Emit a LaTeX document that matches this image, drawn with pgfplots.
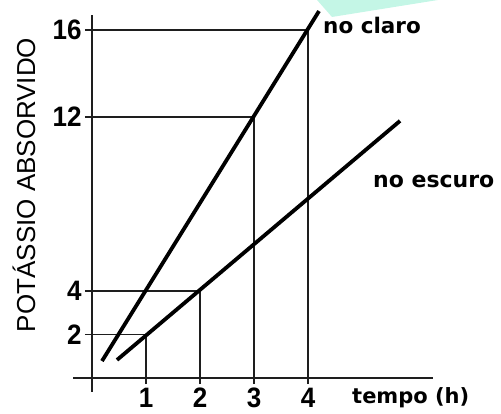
\documentclass[border=0pt]{standalone}
\usepackage{pgfplots}
\pgfplotsset{compat=1.18}
\usepackage{fontspec}
\setmainfont{Liberation Sans}
\newfontfamily\dvb{DejaVu Sans}[BoldFont={DejaVu Sans Bold}]
\definecolor{aqua}{RGB}{196,246,230}
\definecolor{guide}{RGB}{30,30,30}
\tikzset{ytl/.style={anchor=east, inner sep=0pt, font=\fontsize{26}{26}\selectfont\bfseries},
         xtl/.style={anchor=center, inner sep=0pt, font=\fontsize{26}{26}\selectfont\bfseries}}
\newcommand{\tl}[1]{\scalebox{1}[1.08]{#1}}
\begin{document}
\begin{tikzpicture}
\begin{axis}[
  width=501pt, height=414pt, scale only axis,
  xmin=-1.7037, xmax=7.574, ymin=-1.655, ymax=17.379,
  hide axis, clip=false,
]
% background artifact
\fill[aqua] (axis cs:4.167,17.379) -- (axis cs:4.444,16.598) -- (axis cs:6.407,17.379) -- cycle;
% axes
\draw[guide, line width=1.3pt] (axis cs:0,-0.64) -- (axis cs:0,16.69);
\draw[guide, line width=1.3pt] (axis cs:-0.35,0) -- (axis cs:6.31,0);
% guide lines
\draw[guide, line width=1.2pt] (axis cs:-0.13,16) -- (axis cs:4,16);
\draw[guide, line width=1.2pt] (axis cs:-0.13,12) -- (axis cs:3,12);
\draw[guide, line width=1.2pt] (axis cs:-0.13,4) -- (axis cs:2,4);
\draw[guide, line width=1.2pt] (axis cs:-0.13,2) -- (axis cs:1,2);
\draw[guide, line width=1.2pt] (axis cs:1,-0.28) -- (axis cs:1,2);
\draw[guide, line width=1.2pt] (axis cs:2,-0.28) -- (axis cs:2,4);
\draw[guide, line width=1.2pt] (axis cs:3,-0.28) -- (axis cs:3,12);
\draw[guide, line width=1.2pt] (axis cs:4,-0.28) -- (axis cs:4,16);
% data
\addplot[black, line width=3.8pt] coordinates {(0.185,0.78) (4.204,16.87)};
\addplot[black, line width=3.8pt] coordinates {(0.463,0.83) (5.704,11.82)};
% tick labels
\node[ytl] at (axis cs:-0.19,2) {\tl{2}};
\node[ytl] at (axis cs:-0.19,4) {\tl{4}};
\node[ytl] at (axis cs:-0.19,12) {\tl{12}};
\node[ytl] at (axis cs:-0.19,16) {\tl{16}};
\node[xtl] at (axis cs:1,-0.92) {\tl{1}};
\node[xtl] at (axis cs:2,-0.92) {\tl{2}};
\node[xtl] at (axis cs:3,-0.92) {\tl{3}};
\node[xtl] at (axis cs:4,-0.92) {\tl{4}};
% texts
\node[anchor=base west, inner sep=0pt, font=\dvb\fontsize{21.5}{21.5}\selectfont\bfseries] at (axis cs:4.278,15.816) {no claro};
\node[anchor=base west, inner sep=0pt, font=\dvb\fontsize{22}{22}\selectfont\bfseries] at (axis cs:5.204,8.736) {no escuro};
\node[anchor=base west, inner sep=0pt, font=\dvb\fontsize{21}{21}\selectfont\bfseries] at (axis cs:4.815,-1.195) {tempo (h)};
\node[rotate=90, inner sep=0pt, font=\fontsize{26}{26}\selectfont] at (axis cs:-1.259,8.874) {POTÁSSIO ABSORVIDO};
\path (axis cs:-1.7037,-1.655) rectangle (axis cs:7.574,17.379);
\end{axis}
\end{tikzpicture}
\end{document}
